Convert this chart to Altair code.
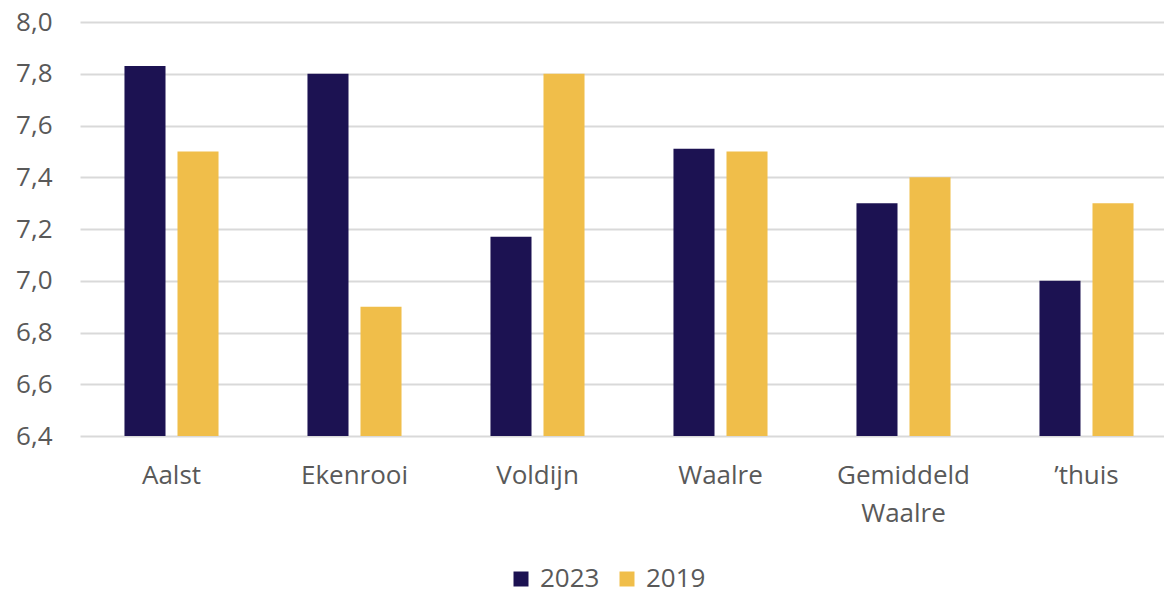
import altair as alt
import pandas as pd

categories = ["Aalst", "Ekenrooi", "Voldijn", "Waalre", "Gemiddeld Waalre", "\u2019thuis"]
years = ["2023", "2019"]
values_2023 = [7.83, 7.80, 7.17, 7.51, 7.30, 7.00]
values_2019 = [7.50, 6.90, 7.80, 7.50, 7.40, 7.30]
y_ticks = [6.4, 6.6, 6.8, 7.0, 7.2, 7.4, 7.6, 7.8, 8.0]
colors = ["#1C1252", "#F0BE4A"]

rows = []
for c, v in zip(categories, values_2023):
    rows.append({"cat": c, "year": "2023", "value": v})
for c, v in zip(categories, values_2019):
    rows.append({"cat": c, "year": "2019", "value": v})
df = pd.DataFrame(rows)

FONT = "Open Sans"
GREY = "#595959"

chart = alt.Chart(df).mark_bar(clip=False).encode(
    x=alt.X("cat:N", sort=categories, title=None,
            scale=alt.Scale(range=[0, 1098], paddingInner=0.486, paddingOuter=0.243),
            axis=alt.Axis(labelAngle=0, domain=False, ticks=False, labelFont=FONT,
                          labelFontSize=26, labelColor=GREY, labelPadding=26,
                          labelLineHeight=38, labelBaseline="top",
                          labelExpr="datum.label == 'Gemiddeld Waalre' ? ['Gemiddeld', 'Waalre'] : datum.label")),
    xOffset=alt.XOffset("year:N", sort=years, scale=alt.Scale(paddingInner=0.226, paddingOuter=0)),
    y=alt.Y("value:Q", title=None,
            scale=alt.Scale(domain=[6.4, 8.0], zero=False, nice=False),
            axis=alt.Axis(values=y_ticks, domain=False, ticks=False, labelFont=FONT,
                          labelFontSize=26, labelColor=GREY, labelPadding=28,
                          gridColor="#D9D9D9", gridWidth=2,
                          labelExpr="replace(format(datum.value, '.1f'), '.', ',')")),
    y2=alt.datum(6.4),
    color=alt.Color("year:N", sort=years, scale=alt.Scale(domain=years, range=colors),
                    legend=alt.Legend(title=None, orient="none", direction="horizontal",
                                      legendX=428, legendY=544, symbolType="square",
                                      symbolSize=225, symbolStrokeWidth=0,
                                      labelFont=FONT, labelFontSize=26, labelColor=GREY,
                                      columnPadding=14, labelOffset=6)),
).properties(
    width=1084, height=414,
    autosize=alt.AutoSizeParams(type="none"),
    padding={"left": 72, "top": 14, "right": 0, "bottom": 157},
).configure_view(stroke=None)

chart.save("out.html", embed_options={"renderer": "svg", "actions": False})
